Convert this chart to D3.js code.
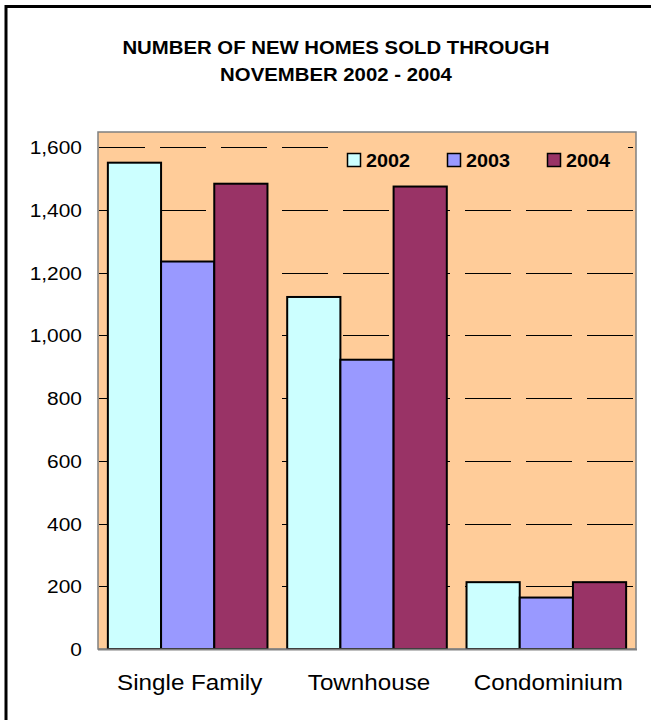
<!DOCTYPE html>
<html>
<head>
<meta charset="utf-8">
<script src="https://cdn.jsdelivr.net/npm/d3@7"></script>
<style>
    body { margin: 0; background: #fff; }
    svg { display: block; font-family: Arial, "Liberation Sans", sans-serif; }
</style>
</head>
<body>
<svg width="651" height="720"></svg>
<script>
// data
var categories = ["Single Family", "Townhouse", "Condominium"];
var years = ["2002", "2003", "2004"];
var sales2002 = [1550, 1122, 213];
var sales2003 = [1235, 922, 164];
var sales2004 = [1483, 1474, 213];
var yTicks = [0, 200, 400, 600, 800, 1000, 1200, 1400, 1600];
var titleLines = ["NUMBER OF NEW HOMES SOLD THROUGH", "NOVEMBER 2002 - 2004"];

var colors = {"2002": "#CCFFFF", "2003": "#9999FF", "2004": "#993366"};
var series = {"2002": sales2002, "2003": sales2003, "2004": sales2004};

var svg = d3.select("svg");
var stretch = 1.1; // original text looks a bit wide

// outer frame (only left and top show)
svg.append("rect")
    .attr("x", 6).attr("y", 6.5)
    .attr("width", 800).attr("height", 900)
    .attr("fill", "none").attr("stroke", "#000").attr("stroke-width", 3);

function addText(x, y, txt, size, weight, anchor) {
    svg.append("text")
        .attr("transform", "translate(" + x + "," + y + ") scale(" + stretch + ",1)")
        .attr("text-anchor", anchor)
        .attr("font-size", size)
        .attr("font-weight", weight)
        .attr("fill", "#000")
        .text(txt);
}

// title
titleLines.forEach(function (t, i) {
    addText(336, 54 + i * 27, t, 18.5, "bold", "middle");
});

var plot = {left: 98, right: 636, top: 132, bottom: 649};

var x = d3.scaleBand().domain(categories)
    .range([plot.left, plot.right])
    .paddingInner(0.11).paddingOuter(0.055);
var xYear = d3.scaleBand().domain(years).range([0, x.bandwidth()]);
var y = d3.scaleLinear().domain([0, 1600]).range([plot.bottom, 147]);

// plot background
svg.append("rect")
    .attr("x", plot.left).attr("y", plot.top)
    .attr("width", plot.right - plot.left).attr("height", plot.bottom - plot.top)
    .attr("fill", "#FFCC99").attr("stroke", "#808080").attr("stroke-width", 1.5);

// dashed gridlines
svg.append("g").selectAll("line")
    .data(yTicks.filter(function (d) { return d > 0; }))
    .enter().append("line")
    .attr("x1", plot.left + 1).attr("x2", plot.right - 1)
    .attr("y1", function (d) { return Math.round(y(d)) + 0.5; })
    .attr("y2", function (d) { return Math.round(y(d)) + 0.5; })
    .attr("stroke", "#000").attr("stroke-width", 1)
    .attr("stroke-dasharray", "46,15");

// y axis labels
var yAxis = d3.axisLeft(y).tickValues(yTicks).tickSize(0).tickFormat(d3.format(","));
var gy = svg.append("g").attr("transform", "translate(" + plot.left + ",0)").call(yAxis);
gy.select(".domain").remove();
gy.selectAll("text").remove();
yTicks.forEach(function (d) {
    addText(82, y(d) + 7, d3.format(",")(d), 19, "normal", "end");
});

// legend
var legX = [347, 447, 547];
svg.append("rect")
    .attr("x", 330).attr("y", 137).attr("width", 298).attr("height", 44)
    .attr("fill", "#FFCC99");
years.forEach(function (yr, i) {
    svg.append("rect")
        .attr("x", legX[i] + 0.5).attr("y", 153.5)
        .attr("width", 13).attr("height", 13)
        .attr("fill", colors[yr]).attr("stroke", "#000").attr("stroke-width", 1.5);
    addText(legX[i] + 19, 167, yr, 18, "bold", "start");
});

// bars
var groups = svg.append("g").selectAll("g")
    .data(categories)
    .enter().append("g")
    .attr("transform", function (d) { return "translate(" + x(d) + ",0)"; });

groups.selectAll("rect")
    .data(function (d, i) {
        return years.map(function (yr) { return {year: yr, value: series[yr][i]}; });
    })
    .enter().append("rect")
    .attr("x", function (d) { return xYear(d.year); })
    .attr("y", function (d) { return y(d.value); })
    .attr("width", xYear.bandwidth())
    .attr("height", function (d) { return y(0) - y(d.value); })
    .attr("fill", function (d) { return colors[d.year]; })
    .attr("stroke", "#000").attr("stroke-width", 2);

// bottom axis line
svg.append("line")
    .attr("x1", plot.left).attr("x2", plot.right + 1)
    .attr("y1", plot.bottom + 0.5).attr("y2", plot.bottom + 0.5)
    .attr("stroke", "#808080").attr("stroke-width", 2);

// category labels
categories.forEach(function (c) {
    addText(x(c) + x.bandwidth() / 2 + 2, 690, c, 22, "normal", "middle");
});
</script>
</body>
</html>
